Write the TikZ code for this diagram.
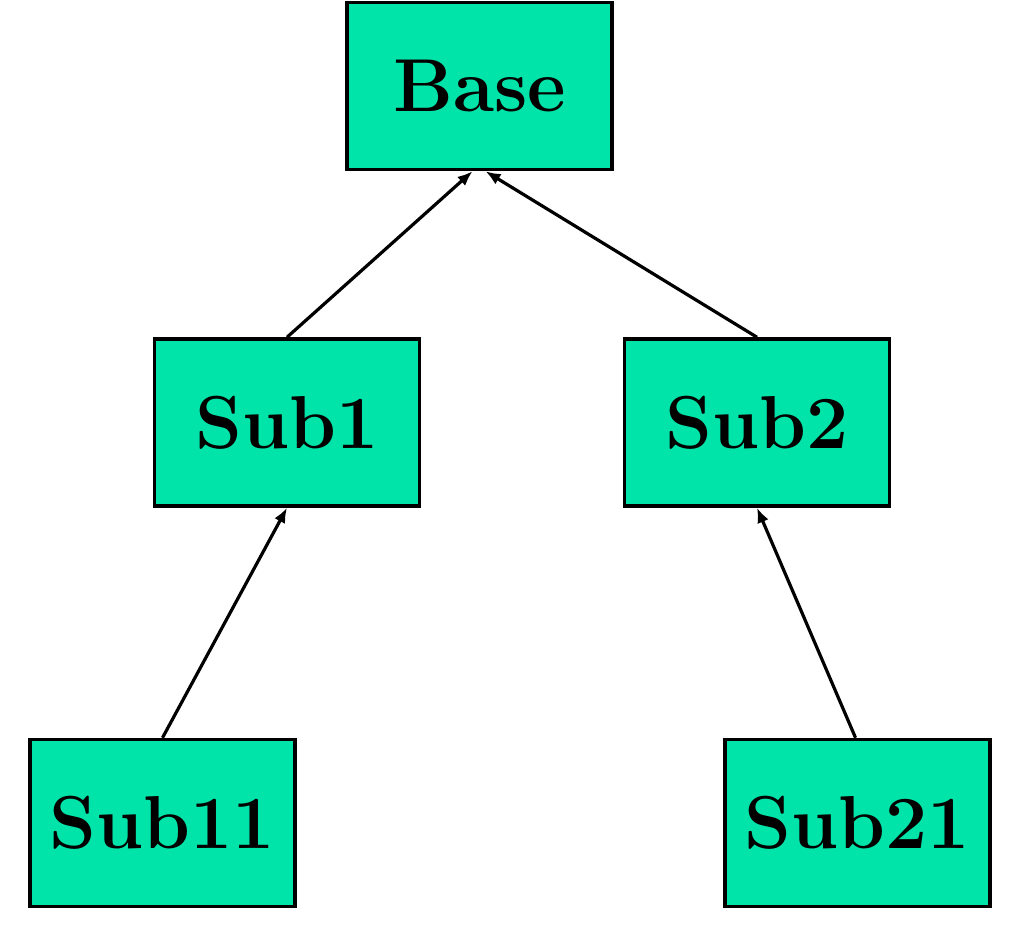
\documentclass[tikz,border=0pt]{standalone}
\usetikzlibrary{arrows.meta}
\definecolor{boxfill}{RGB}{0,228,170}
\begin{document}
\begin{tikzpicture}[x=1pt,y=-1pt,
  cls/.style={draw=black,line width=3.5pt,fill=boxfill,minimum width=265pt,minimum height=167pt,inner sep=0pt,font=\fontsize{75}{80}\selectfont\bfseries},
  inh/.style={line width=3.2pt,-{Latex[length=15pt,width=12pt]}}]
\useasboundingbox (0,0) rectangle (1024,924);
\node[cls] (base) at (479.5,86) {Base};
\node[cls] (sub1) at (287,422.5) {Sub1};
\node[cls] (sub2) at (757,422.5) {Sub2};
\node[cls] (sub11) at (162.5,823) {Sub11};
\node[cls] (sub21) at (857.5,823) {Sub21};
\draw[inh] (sub1.north) -- ([xshift=-7pt]base.south);
\draw[inh] (sub2.north) -- ([xshift=6pt]base.south);
\draw[inh] (sub11.north) -- (sub1.south);
\draw[inh] ([xshift=-2pt]sub21.north) -- (sub2.south);
\end{tikzpicture}
\end{document}
